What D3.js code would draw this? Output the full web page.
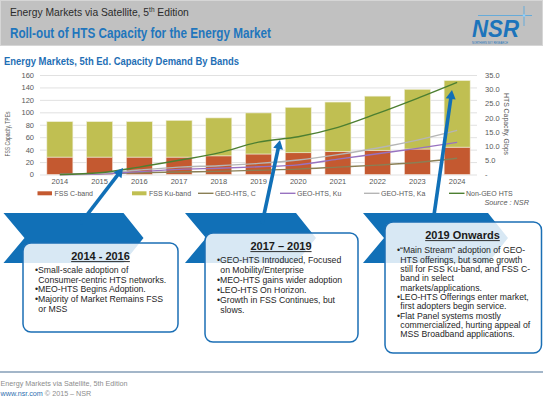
<!DOCTYPE html>
<html>
<head>
<meta charset="utf-8">
<script src="https://cdn.jsdelivr.net/npm/d3@7"></script>
<style>
    body { margin: 0; background: #fff; }
    svg { display: block; font-family: Arial, "Liberation Sans", sans-serif; }
</style>
</head>
<body>
<svg id="chart" width="543" height="397"></svg>
<script>
// values
let years = ['2014', '2015', '2016', '2017', '2018', '2019', '2020', '2021', '2022', '2023', '2024']
let fssC = [28, 28, 28, 28, 30, 33, 35, 37, 39, 41, 44]
let fssKu = [57, 57, 57, 59, 61, 66, 73, 79.5, 87, 96, 107]
let geoC = [0, 0.3, 0.6, 0.9, 1.1, 1.5, 1.9, 2.6, 3.3, 4.2, 5.7]
let geoKu = [0, 0.2, 1, 1.8, 2.2, 2.7, 3.4, 5.4, 7.3, 9.2, 11.3]
let geoKa = [0, 0.4, 1.6, 2.6, 3.1, 3.9, 5.1, 7, 9.3, 12.1, 15.5]
let nonGeo = [0, 0.6, 2.6, 5, 7.6, 11.4, 13.3, 16.6, 21.5, 26.8, 32.4]
let leftTicks = [0, 20, 40, 60, 80, 100, 120, 140, 160]
let rightTicks = [0, 5, 10, 15, 20, 25, 30, 35]

let box1Title = '2014 - 2016'
let box1Lines = [
    '•Small-scale adoption of', 'Consumer-centric HTS networks.',
    '•MEO-HTS Begins Adoption.',
    '•Majority of Market Remains FSS', 'or MSS'
]
let box2Title = '2017 – 2019'
let box2Lines = [
    '•GEO-HTS Introduced, Focused', 'on Mobility/Enterprise',
    '•MEO-HTS gains wider adoption',
    '•LEO-HTS On Horizon.',
    '•Growth in FSS Continues, but', 'slows.'
]
let box3Title = '2019 Onwards'
let box3Lines = [
    '•“Main Stream” adoption of GEO-', 'HTS offerings, but some growth',
    'still for FSS Ku-band, and FSS C-', 'band in select', 'markets/applications.',
    '•LEO-HTS Offerings enter market,', 'first adopters begin service.',
    '•Flat Panel systems mostly', 'commercialized, hurting appeal of',
    'MSS Broadband applications.'
]

function main() {
    let svg = d3.select('#chart'),
        blue = '#1170b7',
        axisGray = '#595959'

    // header band
    svg.append('rect')
        .attr('x', 0.5).attr('y', 0.5).attr('width', 542).attr('height', 45)
        .attr('fill', '#c1c1c1').attr('stroke', '#d6d6d6')

    let sub = svg.append('text')
        .attr('x', 10).attr('y', 15.5)
        .attr('font-size', 10.3).attr('fill', '#2b2b2b')
    sub.append('tspan').text('Energy Markets via Satellite, 5')
    sub.append('tspan').attr('font-size', 6.5).attr('dy', -3.5).text('th')
    sub.append('tspan').attr('dy', 3.5).text(' Edition')

    svg.append('text')
        .attr('x', 10).attr('y', 38)
        .attr('font-size', 14).attr('font-weight', 'bold').attr('fill', '#1f76bd')
        .attr('textLength', 261).attr('lengthAdjust', 'spacingAndGlyphs')
        .text('Roll-out of HTS Capacity for the Energy Market')

    // NSR logo
    let logo = svg.append('g')
    logo.append('line').attr('x1', 478).attr('x2', 532).attr('y1', 15.5).attr('y2', 15.5)
        .attr('stroke', '#4fa6e0').attr('stroke-width', 0.8)
    logo.append('line').attr('x1', 524).attr('x2', 524).attr('y1', 6).attr('y2', 26)
        .attr('stroke', '#4fa6e0').attr('stroke-width', 0.8)
    logo.append('circle').attr('cx', 524).attr('cy', 15.5).attr('r', 1.3).attr('fill', '#8fd0ff')
    logo.append('text')
        .attr('x', 472).attr('y', 36.5)
        .attr('font-size', 23).attr('font-weight', 'bold').attr('font-style', 'italic')
        .attr('fill', '#1c74bb')
        .attr('textLength', 47).attr('lengthAdjust', 'spacingAndGlyphs')
        .text('NSR')
    logo.append('text')
        .attr('x', 472).attr('y', 44)
        .attr('font-size', 2.6).attr('fill', '#1c74bb')
        .attr('textLength', 36).attr('lengthAdjust', 'spacingAndGlyphs')
        .text('NORTHERN SKY RESEARCH')

    // chart title
    svg.append('text')
        .attr('x', 4).attr('y', 65)
        .attr('font-size', 10.5).attr('font-weight', 'bold').attr('fill', '#1f6fb5')
        .attr('textLength', 235).attr('lengthAdjust', 'spacingAndGlyphs')
        .text('Energy Markets, 5th Ed. Capacity Demand By Bands')

    let x = d3.scaleBand().domain(years).range([40, 477])
            .paddingInner(0.345).paddingOuter(0.1725),
        yL = d3.scaleLinear().domain([0, 160]).range([174.5, 75]),
        yR = d3.scaleLinear().domain([0, 35]).range([174.5, 75]),
        cx = d => x(d) + x.bandwidth() / 2

    // grid + left axis
    let gl = svg.append('g')
        .attr('transform', 'translate(40, 0)')
        .call(d3.axisLeft(yL).tickValues(leftTicks).tickSize(-437).tickPadding(6))
    gl.select('.domain').remove()
    gl.selectAll('line').attr('stroke', '#d9d9d9').attr('stroke-width', 0.8)
    gl.selectAll('text').attr('font-size', 7.5).attr('fill', axisGray).attr('font-family', null)

    let gr = svg.append('g')
        .attr('transform', 'translate(477, 0)')
        .call(d3.axisRight(yR).tickValues(rightTicks).tickSize(0).tickPadding(8)
            .tickFormat(d => d === 0 ? '-' : d3.format('.1f')(d)))
    gr.select('.domain').remove()
    gr.selectAll('text').attr('font-size', 7.5).attr('fill', axisGray).attr('font-family', null)

    let gb = svg.append('g')
        .attr('transform', 'translate(0, 174.5)')
        .call(d3.axisBottom(x).tickSize(0).tickPadding(3.7))
    gb.select('.domain').remove()
    gb.selectAll('text').attr('font-size', 7.5).attr('fill', axisGray).attr('font-family', null)

    svg.append('text')
        .attr('transform', 'translate(9.5, 134) rotate(-90)')
        .attr('text-anchor', 'middle').attr('font-size', 7).attr('fill', axisGray)
        .attr('textLength', 45).attr('lengthAdjust', 'spacingAndGlyphs')
        .text('FSS Capacity, TPEs')

    svg.append('text')
        .attr('transform', 'translate(503.5, 124) rotate(90)')
        .attr('text-anchor', 'middle').attr('font-size', 7.8).attr('fill', axisGray)
        .attr('textLength', 62).attr('lengthAdjust', 'spacingAndGlyphs')
        .text('HTS Capacity, Gbps')

    // stacked bars
    let cColor = '#c45930', kuColor = '#c0bf52'
    svg.append('g').selectAll('rect')
        .data(years)
        .enter()
        .append('rect')
        .attr('x', d => x(d))
        .attr('width', x.bandwidth())
        .attr('y', (d, i) => yL(fssC[i]))
        .attr('height', (d, i) => yL(0) - yL(fssC[i]))
        .attr('fill', cColor)
        .attr('stroke', '#f3e6dc').attr('stroke-width', 0.6)
    svg.append('g').selectAll('rect')
        .data(years)
        .enter()
        .append('rect')
        .attr('x', d => x(d))
        .attr('width', x.bandwidth())
        .attr('y', (d, i) => yL(fssC[i] + fssKu[i]))
        .attr('height', (d, i) => yL(fssC[i]) - yL(fssC[i] + fssKu[i]))
        .attr('fill', kuColor)
        .attr('stroke', '#eeeed8').attr('stroke-width', 0.6)

    // HTS lines
    let series = [
        {name: 'GEO-HTS, C', values: geoC, color: '#8a7f55'},
        {name: 'GEO-HTS, Ku', values: geoKu, color: '#9872c0'},
        {name: 'GEO-HTS, Ka', values: geoKa, color: '#b5b5b5'},
        {name: 'Non-GEO HTS', values: nonGeo, color: '#4c7f31'}
    ]
    let line = d3.line()
        .x((d, i) => cx(years[i]))
        .y(d => yR(d))
        .curve(d3.curveMonotoneX)
    svg.append('g').selectAll('path')
        .data(series)
        .enter()
        .append('path')
        .attr('d', d => line(d.values))
        .attr('fill', 'none')
        .attr('stroke', d => d.color)
        .attr('stroke-width', 1.4)

    // legend
    let legend = svg.append('g').attr('font-size', 7).attr('fill', axisGray)
    let legendItems = [
        {name: 'FSS C-band', color: cColor, bar: true, x: 37.5},
        {name: 'FSS Ku-band', color: kuColor, bar: true, x: 132},
        {name: series[0].name, color: series[0].color, x: 198},
        {name: series[1].name, color: series[1].color, x: 280},
        {name: series[2].name, color: series[2].color, x: 364},
        {name: series[3].name, color: series[3].color, x: 449}
    ]
    legendItems.forEach(d => {
        if (d.bar) {
            legend.append('rect').attr('x', d.x).attr('y', 191.3).attr('width', 14.5).attr('height', 4)
                .attr('fill', d.color)
        } else {
            legend.append('line').attr('x1', d.x).attr('x2', d.x + 15.5)
                .attr('y1', 193.3).attr('y2', 193.3)
                .attr('stroke', d.color).attr('stroke-width', 1.4)
        }
        legend.append('text').attr('x', d.x + 17).attr('y', 196).text(d.name)
    })

    svg.append('text')
        .attr('x', 529).attr('y', 204.5).attr('text-anchor', 'end')
        .attr('font-size', 7.3).attr('font-style', 'italic').attr('fill', axisGray)
        .text('Source : NSR')

    // chevrons
    function chevron(x0, w) {
        let p = d3.path()
        p.moveTo(x0, 213)
        p.lineTo(x0 + w, 213)
        p.lineTo(x0 + w + 20, 238)
        p.lineTo(x0 + w, 263)
        p.lineTo(x0, 263)
        p.lineTo(x0 + 21, 238)
        p.closePath()
        return p.toString()
    }
    let chevrons = [[3.5, 120], [185, 111], [363, 125]]
    svg.append('g').selectAll('path')
        .data(chevrons)
        .enter()
        .append('path')
        .attr('d', d => chevron(d[0], d[1]))
        .attr('fill', blue)

    // arrows
    function arrow(x1, y1, x2, y2) {
        let dx = x2 - x1, dy = y2 - y1, len = Math.sqrt(dx * dx + dy * dy),
            ux = dx / len, uy = dy / len, headL = 9, headW = 5,
            bx = x2 - ux * headL, by = y2 - uy * headL
        svg.append('line')
            .attr('x1', x1).attr('y1', y1).attr('x2', bx + ux).attr('y2', by + uy)
            .attr('stroke', blue).attr('stroke-width', 3.6)
        svg.append('path')
            .attr('d', 'M' + x2 + ',' + y2
                + 'L' + (bx - uy * headW) + ',' + (by + ux * headW)
                + 'L' + (bx + uy * headW) + ',' + (by - ux * headW) + 'Z')
            .attr('fill', blue)
    }
    arrow(80, 224, 123, 168)
    arrow(262, 224, 280, 140)
    arrow(433, 222, 452, 90)

    // text boxes
    function box(bx, by, bw, bh, title, titleX, titleY, lines, lineY, step) {
        let g = svg.append('g')
        g.append('rect')
            .attr('x', bx).attr('y', by).attr('width', bw).attr('height', bh)
            .attr('rx', 8).attr('ry', 8)
            .attr('fill', '#fff').attr('fill-opacity', 0.84)
            .attr('stroke', '#1b6fb5').attr('stroke-width', 1.5)
        let t = g.append('text')
            .attr('x', titleX).attr('y', titleY).attr('text-anchor', 'middle')
            .attr('font-size', 11).attr('font-weight', 'bold').attr('fill', '#1a1a1a')
            .text(title)
        let tw = t.node().getComputedTextLength()
        g.append('line')
            .attr('x1', titleX - tw / 2).attr('x2', titleX + tw / 2)
            .attr('y1', titleY + 1.6).attr('y2', titleY + 1.6)
            .attr('stroke', '#1a1a1a').attr('stroke-width', 0.9)
        g.selectAll('text.line')
            .data(lines)
            .enter()
            .append('text')
            .attr('class', 'line')
            .attr('x', d => d.startsWith('•') ? bx + 12 : bx + 15.3)
            .attr('y', (d, i) => lineY + i * step)
            .attr('font-size', 8.7).attr('fill', '#262626')
            .text(d => d)
    }
    box(23, 243, 155, 89, box1Title, 100.5, 260, box1Lines, 273, 9.7)
    box(205, 233, 153, 109, box2Title, 281, 250, box2Lines, 263.2, 9.95)
    box(385, 222, 156.5, 131, box3Title, 462.5, 239, box3Lines, 253.3, 9.35)

    // footer
    svg.append('line')
        .attr('x1', 0).attr('x2', 543).attr('y1', 372).attr('y2', 372)
        .attr('stroke', '#a3b6c9').attr('stroke-width', 2)
    svg.append('text')
        .attr('x', 0.5).attr('y', 386)
        .attr('font-size', 7.2).attr('fill', '#8c8c8c')
        .text('Energy Markets via Satellite, 5th Edition')
    let foot = svg.append('text')
        .attr('x', 0.5).attr('y', 395.5)
        .attr('font-size', 7.2).attr('fill', '#8c8c8c')
    foot.append('tspan').attr('fill', '#2f6fb0').text('www.nsr.com')
    foot.append('tspan').text(' © 2015 – NSR')
}

main()
</script>
</body>
</html>
